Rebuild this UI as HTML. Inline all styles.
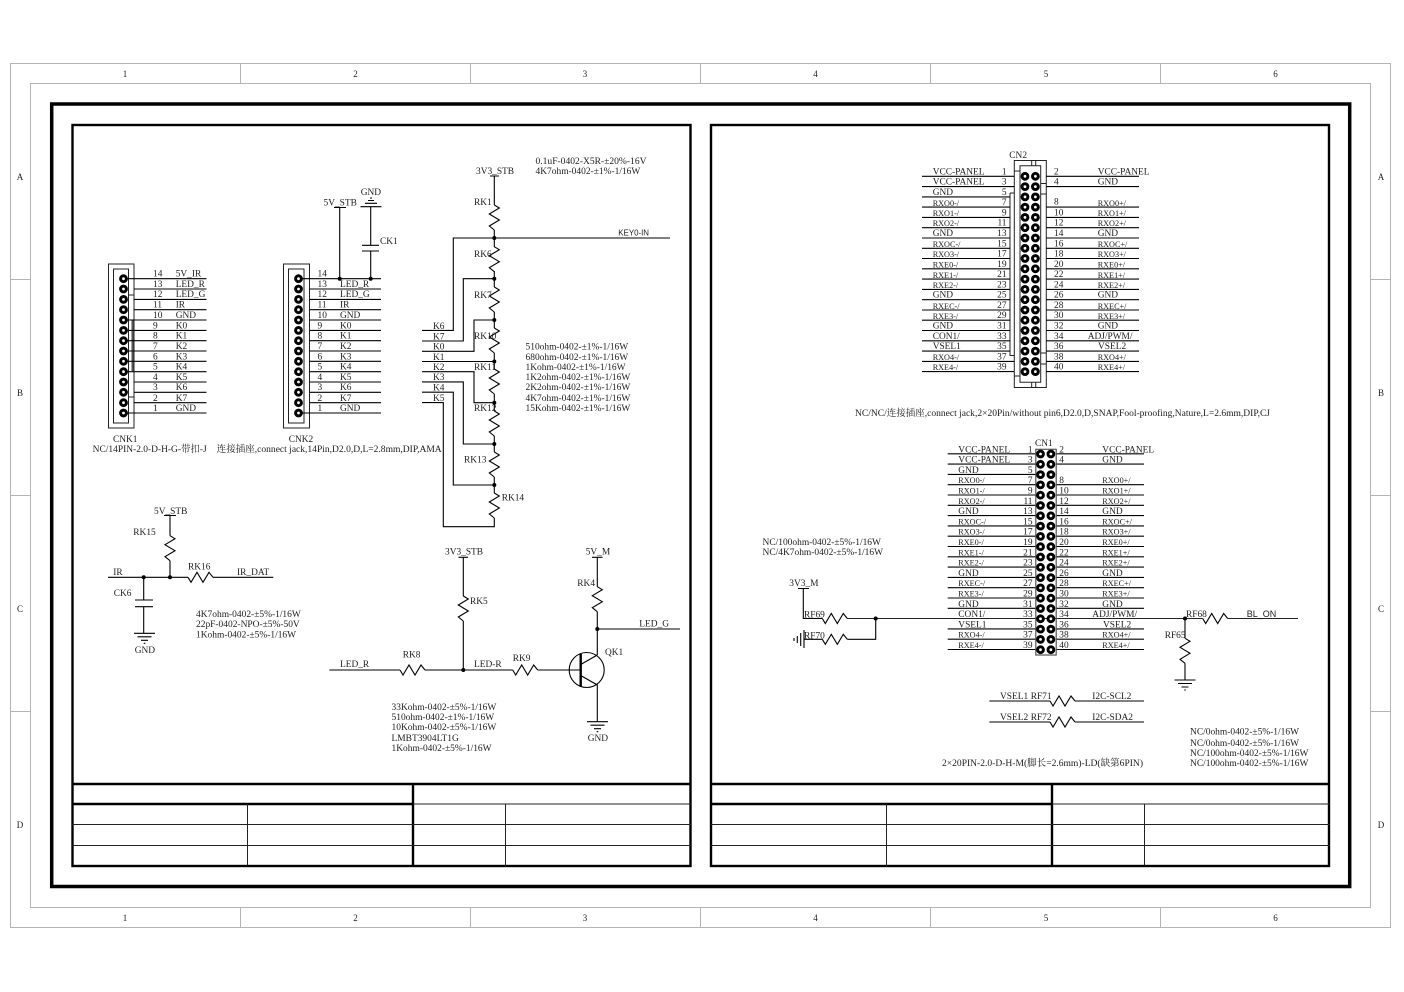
<!DOCTYPE html>
<html><head><meta charset="utf-8"><style>
html,body{margin:0;padding:0;background:#fff}
svg{display:block}
text{font-family:"Liberation Serif","Noto Serif CJK SC",serif;font-size:9.4px;fill:#1c1c1c;stroke:none}
.s{font-size:8.2px}
.m{font-size:9.45px}
.e{text-anchor:end}
.c{text-anchor:middle}
.h{font-family:"Liberation Sans",sans-serif;font-size:7.9px}
.w{fill:none;stroke:#000;stroke-width:1.1}
.g{fill:none;stroke:#b4b4b4;stroke-width:1}
.t{fill:none;stroke:#000;stroke-width:3.5}
.k{fill:none;stroke:#000;stroke-width:2.4}
.n{fill:none;stroke:#222;stroke-width:1}
.b{font-size:9px}
</style></head><body>
<svg xmlns="http://www.w3.org/2000/svg" width="1404" height="992" viewBox="0 0 1404 992">
<defs>
<path id="rv" class="w" d="M0 0L5 3L-5 9L5 15L-5 21L0 25"/>
<path id="rh" class="w" d="M0 0L3 5L9 -5L15 5L21 -5L25 0"/>
<circle id="p" cx="0" cy="0" r="2.9" fill="#fff" stroke="#000" stroke-width="3"/>
<g id="pp"><use href="#p" x="0"/><use href="#p" x="10.4"/></g>
<g id="d"><circle r="2" fill="#000"/></g>
<path id="gnd" class="w" d="M-10.5 0H10.5M-7 3.5H7M-3.5 7H3.5M-.8 10H.8"/>
</defs>

<!-- outer grid -->
<path class="g" d="M10.5 63.5H1390.5V927.5H10.5ZM30.5 83.5H1370.5V907.5H30.5Z"/>
<path class="g" d="M240.5 64V84M470.5 64V84M700.5 64V84M930.5 64V84M1160.5 64V84M240.5 907V927M470.5 907V927M700.5 907V927M930.5 907V927M1160.5 907V927M11 279.5H31M11 495.5H31M11 711.5H31M1370 279.5H1390M1370 495.5H1390M1370 711.5H1390"/>
<g class="b">
<text class="c b" x="125" y="77">1</text><text class="c b" x="355.5" y="77">2</text><text class="c b" x="585" y="77">3</text><text class="c b" x="815.5" y="77">4</text><text class="c b" x="1046" y="77">5</text><text class="c b" x="1275.5" y="77">6</text>
<text class="c b" x="125" y="921">1</text><text class="c b" x="355.5" y="921">2</text><text class="c b" x="585" y="921">3</text><text class="c b" x="815.5" y="921">4</text><text class="c b" x="1046" y="921">5</text><text class="c b" x="1275.5" y="921">6</text>
<text class="c b" x="20" y="180">A</text><text class="c b" x="20" y="396">B</text><text class="c b" x="20" y="612">C</text><text class="c b" x="20" y="828">D</text>
<text class="c b" x="1381" y="180">A</text><text class="c b" x="1381" y="396">B</text><text class="c b" x="1381" y="612">C</text><text class="c b" x="1381" y="828">D</text>
</g>

<!-- frames -->
<rect class="t" x="51.7" y="104" width="1298" height="782.5"/>
<rect class="k" x="72.5" y="125" width="618" height="741"/>
<rect class="k" x="711" y="125" width="618" height="741"/>
<path class="k" d="M72 784H691M72 804H413M413 784V866M711 784H1330M711 804H1052M1052 784V866"/>
<path class="n" d="M413 804H691M72 824.5H691M72 845.5H691M247.5 804V866M505.5 804V866M1052 804H1330M711 824.5H1330M711 845.5H1330M886.5 804V866M1144.5 804V866"/>

<!-- CNK1 -->
<path class="n" stroke-width="1.2" d="M108.5 264H134V428H108.5ZM113.5 269H128.5V423H113.5Z"/>
<path class="n" d="M128.5 295H134M128.5 397H134"/>
<path fill="none" stroke="#555" stroke-width="2" d="M132.5 320V371"/>
<path class="w" d="M124 278.7H206.5M134 289H206.5M134 299.4H206.5M134 309.7H206.5M124 320H206.5M124 330.4H206.5M124 340.7H206.5M124 351H206.5M124 361.3H206.5M124 371.7H206.5M134 382H206.5M134 392.3H206.5M134 402.7H206.5M124 413H206.5"/>
<use href="#p" x="123.5" y="278.7"/><use href="#p" x="123.5" y="289"/><use href="#p" x="123.5" y="299.4"/><use href="#p" x="123.5" y="309.7"/><use href="#p" x="123.5" y="320"/><use href="#p" x="123.5" y="330.4"/><use href="#p" x="123.5" y="340.7"/><use href="#p" x="123.5" y="351"/><use href="#p" x="123.5" y="361.3"/><use href="#p" x="123.5" y="371.7"/><use href="#p" x="123.5" y="382"/><use href="#p" x="123.5" y="392.3"/><use href="#p" x="123.5" y="402.7"/><use href="#p" x="123.5" y="413"/>
<text x="153" y="276.5">14</text><text x="175.7" y="276.5">5V_IR</text>
<text x="153" y="286.8">13</text><text x="175.7" y="286.8">LED_R</text>
<text x="153" y="297.2">12</text><text x="175.7" y="297.2">LED_G</text>
<text x="153" y="307.5">11</text><text x="175.7" y="307.5">IR</text>
<text x="153" y="317.8">10</text><text x="175.7" y="317.8">GND</text>
<text x="153" y="328.5">9</text><text x="175.7" y="328.5">K0</text>
<text x="153" y="338.5">8</text><text x="175.7" y="338.5">K1</text>
<text x="153" y="348.8">7</text><text x="175.7" y="348.8">K2</text>
<text x="153" y="359.5">6</text><text x="175.7" y="359.5">K3</text>
<text x="153" y="369.5">5</text><text x="175.7" y="369.5">K4</text>
<text x="153" y="379.8">4</text><text x="175.7" y="379.8">K5</text>
<text x="153" y="390">3</text><text x="175.7" y="390">K6</text>
<text x="153" y="401">2</text><text x="175.7" y="401">K7</text>
<text x="153" y="411">1</text><text x="175.7" y="411">GND</text>
<text x="113" y="442">CNK1</text>
<text x="92.7" y="452" textLength="114" lengthAdjust="spacingAndGlyphs">NC/14PIN-2.0-D-H-G-带扣-J</text>

<!-- CNK2 -->
<path class="n" d="M283.5 264H309.5V428H283.5ZM288.5 269H304V423H288.5Z"/>
<path class="w" d="M299 278.7H381M309.5 289H381M309.5 299.4H381M309.5 309.7H381M309.5 320H381M309.5 330.4H381M309.5 340.7H381M309.5 351H381M309.5 361.3H381M309.5 371.7H381M309.5 382H381M309.5 392.3H381M309.5 402.7H381M299 413H381"/>
<use href="#p" x="298.5" y="278.7"/><use href="#p" x="298.5" y="289"/><use href="#p" x="298.5" y="299.4"/><use href="#p" x="298.5" y="309.7"/><use href="#p" x="298.5" y="320"/><use href="#p" x="298.5" y="330.4"/><use href="#p" x="298.5" y="340.7"/><use href="#p" x="298.5" y="351"/><use href="#p" x="298.5" y="361.3"/><use href="#p" x="298.5" y="371.7"/><use href="#p" x="298.5" y="382"/><use href="#p" x="298.5" y="392.3"/><use href="#p" x="298.5" y="402.7"/><use href="#p" x="298.5" y="413"/>
<text x="317.5" y="276.5">14</text>
<text x="317.5" y="286.8">13</text><text x="340" y="286.8">LED_R</text>
<text x="317.5" y="297.2">12</text><text x="340" y="297.2">LED_G</text>
<text x="317.5" y="307.5">11</text><text x="340" y="307.5">IR</text>
<text x="317.5" y="317.8">10</text><text x="340" y="317.8">GND</text>
<text x="317.5" y="328.5">9</text><text x="340" y="328.5">K0</text>
<text x="317.5" y="338.5">8</text><text x="340" y="338.5">K1</text>
<text x="317.5" y="348.8">7</text><text x="340" y="348.8">K2</text>
<text x="317.5" y="359.5">6</text><text x="340" y="359.5">K3</text>
<text x="317.5" y="369.5">5</text><text x="340" y="369.5">K4</text>
<text x="317.5" y="379.8">4</text><text x="340" y="379.8">K5</text>
<text x="317.5" y="390">3</text><text x="340" y="390">K6</text>
<text x="317.5" y="401">2</text><text x="340" y="401">K7</text>
<text x="317.5" y="411">1</text><text x="340" y="411">GND</text>
<text x="288.7" y="442">CNK2</text>
<text x="216.7" y="452" textLength="225" lengthAdjust="spacingAndGlyphs">连接插座,connect jack,14Pin,D2.0,D,L=2.8mm,DIP,AMA</text>
<path class="w" d="M334 207.5H346M339.7 207.5V278.7M370.7 206.7V245.3M362 245.3H379M362 251H379M370.7 251V278.7"/>
<path class="w" d="M360.5 206.7H381.5M365 203.3H377M368 200.5H374M370 198H372"/>
<use href="#d" x="339.7" y="278.7"/><use href="#d" x="370.7" y="278.7"/>
<text x="323.5" y="205.5">5V_STB</text><text x="360.7" y="195">GND</text><text x="380" y="244">CK1</text>

<!-- K ladder -->
<path class="w" d="M422 330.4H453.3V238H670M422 341H463.3V278.7H494.3M422 351.3H474V320H494.3M422 361.5H494.3M422 371.7H474V402.7H494.3M422 381.9H463.3V444H494.3M422 392.2H453.3V485H494.3M422 402.6H443.3V526.7H494.3V518"/>
<path class="w" d="M490 176H499M494.3 176V205M494.3 230V247M494.3 271V287M494.3 312V328M494.3 353V369M494.3 394V411M494.3 436V452M494.3 477V493"/>
<use href="#rv" x="494.3" y="205"/><use href="#rv" x="494.3" y="246.7"/><use href="#rv" x="494.3" y="287"/><use href="#rv" x="494.3" y="328"/><use href="#rv" x="494.3" y="369"/><use href="#rv" x="494.3" y="411"/><use href="#rv" x="494.3" y="452"/><use href="#rv" x="494.3" y="493"/>
<use href="#d" x="494.3" y="238"/><use href="#d" x="494.3" y="278.7"/><use href="#d" x="494.3" y="320"/><use href="#d" x="494.3" y="361.5"/><use href="#d" x="494.3" y="402.7"/><use href="#d" x="494.3" y="444"/><use href="#d" x="494.3" y="485"/>
<text x="476" y="174">3V3_STB</text>
<text x="474" y="205">RK1</text><text x="474" y="257">RK6</text><text x="474" y="298">RK7</text><text x="474" y="339">RK10</text><text x="474" y="370">RK11</text><text x="474" y="411">RK12</text><text x="464" y="462.5">RK13</text><text x="501.7" y="500.5">RK14</text>
<text class="h" x="618.3" y="235.5">KEY0-IN</text>
<text class="m" x="535.5" y="164" textLength="111" lengthAdjust="spacingAndGlyphs">0.1uF-0402-X5R-±20%-16V</text>
<text class="m" x="535.5" y="174">4K7ohm-0402-±1%-1/16W</text>
<text class="m" x="525.5" y="349.5">510ohm-0402-±1%-1/16W</text>
<text class="m" x="525.5" y="360">680ohm-0402-±1%-1/16W</text>
<text class="m" x="525.5" y="370">1Kohm-0402-±1%-1/16W</text>
<text class="m" x="525.5" y="380">1K2ohm-0402-±1%-1/16W</text>
<text class="m" x="525.5" y="390">2K2ohm-0402-±1%-1/16W</text>
<text class="m" x="525.5" y="401">4K7ohm-0402-±1%-1/16W</text>
<text class="m" x="525.5" y="411">15Kohm-0402-±1%-1/16W</text>
<text x="433" y="329">K6</text><text x="433" y="339.3">K7</text><text x="433" y="349.5">K0</text><text x="433" y="360">K1</text><text x="433" y="370">K2</text><text x="433" y="380">K3</text><text x="433" y="390.3">K4</text><text x="433" y="401">K5</text>

<!-- IR -->
<path class="w" d="M164 515.5H176M170 515.5V535.7M170 560.7V577.3M108 577.3H188M213 577.3H273.3M143.7 577.3V600M135 600H153M135 606.7H153M143.7 606.7V633.3"/>
<use href="#rv" x="170" y="535.7"/><use href="#rh" x="188" y="577.3"/><use href="#gnd" x="144.5" y="633.3"/>
<use href="#d" x="143.7" y="577.3"/><use href="#d" x="170" y="577.3"/>
<text x="154" y="514">5V_STB</text><text x="133.3" y="535">RK15</text><text x="113.3" y="575">IR</text><text x="188" y="569.5">RK16</text><text x="237" y="575">IR_DAT</text><text x="113.7" y="596">CK6</text><text x="134.7" y="653">GND</text>
<text class="m" x="196" y="617">4K7ohm-0402-±5%-1/16W</text>
<text class="m" x="196" y="627">22pF-0402-NPO-±5%-50V</text>
<text class="m" x="196" y="637.5">1Kohm-0402-±5%-1/16W</text>

<!-- Transistor -->
<path class="w" d="M458.5 557.3H468M463.3 557.3V596M463.3 621V670M329.3 670H400M425 670H512.7M537.7 670H580.7M592 557.3H602.5M597.3 557.3V586.7M597.3 611.7V655M597.3 629H680M580.7 664.5L597.3 655M580.7 675.5L597.3 685V721.7"/>
<use href="#rv" x="463.3" y="596"/><use href="#rv" x="597.3" y="586.7"/><use href="#rh" x="400" y="670"/><use href="#rh" x="512.7" y="670"/>
<circle class="w" cx="586.7" cy="670" r="17.5"/>
<path fill="none" stroke="#000" stroke-width="2.4" d="M580.7 654V686.7"/>
<use href="#gnd" x="597.5" y="721.7"/>
<use href="#d" x="463.3" y="670"/><use href="#d" x="597.3" y="629"/>
<text x="445" y="554.5">3V3_STB</text><text x="585.7" y="554.5">5V_M</text><text x="470" y="604">RK5</text><text x="577.3" y="586">RK4</text><text x="340" y="667">LED_R</text><text x="402.7" y="657.5">RK8</text><text x="474" y="667">LED-R</text><text x="512.7" y="661">RK9</text><text x="639.3" y="626.5">LED_G</text><text x="605" y="655">QK1</text><text x="587.7" y="741">GND</text>
<text class="m" x="391.5" y="710">33Kohm-0402-±5%-1/16W</text>
<text class="m" x="391.5" y="720">510ohm-0402-±1%-1/16W</text>
<text class="m" x="391.5" y="730">10Kohm-0402-±5%-1/16W</text>
<text class="m" x="391.5" y="741">LMBT3904LT1G</text>
<text class="m" x="391.5" y="751">1Kohm-0402-±5%-1/16W</text>

<!-- CN2 -->
<text x="1009.3" y="158">CN2</text>
<path class="n" d="M1014.3 160.5H1046.3V387.5H1014.3ZM1020 165.7H1040.7V382.3H1020ZM1031.7 160.5V165.7M1035.7 160.5V165.7M1031.7 382.3V387.5M1035.7 382.3V387.5M1014.3 171H1020M1014.3 376H1020M1010 193H1014.3M1010 193V355.5H1014.3M1040.7 183.5H1046.3M1040.7 194H1046.3M1040.7 353H1046.3M1040.7 364H1046.3M1046.3 183.5V194"/>
<path class="w" d="M922 176.3H1014M922 186.6H1014M922 196.9H1010M922 207.1H1010M922 217.4H1010M922 227.7H1010M922 238H1010M922 248.3H1010M922 258.5H1010M922 268.8H1010M922 279.1H1010M922 289.4H1010M922 299.7H1010M922 310H1010M922 320.2H1010M922 330.5H1010M922 340.8H1010M922 351.1H1010M922 361.4H1014M922 371.6H1014"/>
<path class="w" d="M1046.3 176.3H1139M1046.3 186.6H1139M1046.3 207.1H1139M1046.3 217.4H1139M1046.3 227.7H1139M1046.3 238H1139M1046.3 248.3H1139M1046.3 258.5H1139M1046.3 268.8H1139M1046.3 279.1H1139M1046.3 289.4H1139M1046.3 299.7H1139M1046.3 310H1139M1046.3 320.2H1139M1046.3 330.5H1139M1046.3 340.8H1139M1046.3 351.1H1139M1046.3 361.4H1139M1046.3 371.6H1139"/>
<use href="#pp" x="1025" y="176.3"/><use href="#pp" x="1025" y="186.6"/><use href="#pp" x="1025" y="196.9"/><use href="#pp" x="1025" y="207.1"/><use href="#pp" x="1025" y="217.4"/><use href="#pp" x="1025" y="227.7"/><use href="#pp" x="1025" y="238"/><use href="#pp" x="1025" y="248.3"/><use href="#pp" x="1025" y="258.5"/><use href="#pp" x="1025" y="268.8"/><use href="#pp" x="1025" y="279.1"/><use href="#pp" x="1025" y="289.4"/><use href="#pp" x="1025" y="299.7"/><use href="#pp" x="1025" y="310"/><use href="#pp" x="1025" y="320.2"/><use href="#pp" x="1025" y="330.5"/><use href="#pp" x="1025" y="340.8"/><use href="#pp" x="1025" y="351.1"/><use href="#pp" x="1025" y="361.4"/><use href="#pp" x="1025" y="371.6"/>
<text x="932.7" y="174.3">VCC-PANEL</text><text class="e" x="1006.5" y="174.3">1</text><text x="1054" y="174.3">2</text><text x="1097.7" y="174.3">VCC-PANEL</text>
<text x="932.7" y="184.6">VCC-PANEL</text><text class="e" x="1006.5" y="184.6">3</text><text x="1054" y="184.6">4</text><text x="1097.7" y="184.6">GND</text>
<text x="932.7" y="194.9">GND</text><text class="e" x="1006.5" y="194.9">5</text>
<text class="s" x="932.7" y="206">RXO0-/</text><text class="e" x="1006.5" y="205">7</text><text x="1054" y="204.5">8</text><text class="s" x="1097.7" y="206">RXO0+/</text>
<text class="s" x="932.7" y="216">RXO1-/</text><text class="e" x="1006.5" y="215.4">9</text><text x="1054" y="215.4">10</text><text class="s" x="1097.7" y="216">RXO1+/</text>
<text class="s" x="932.7" y="226">RXO2-/</text><text class="e" x="1006.5" y="225.7">11</text><text x="1054" y="225.7">12</text><text class="s" x="1097.7" y="226">RXO2+/</text>
<text x="932.7" y="236">GND</text><text class="e" x="1006.5" y="236">13</text><text x="1054" y="236">14</text><text x="1097.7" y="236">GND</text>
<text class="s" x="932.7" y="247">RXOC-/</text><text class="e" x="1006.5" y="246.3">15</text><text x="1054" y="246.3">16</text><text class="s" x="1097.7" y="247">RXOC+/</text>
<text class="s" x="932.7" y="257">RXO3-/</text><text class="e" x="1006.5" y="256.5">17</text><text x="1054" y="256.5">18</text><text class="s" x="1097.7" y="257">RXO3+/</text>
<text class="s" x="932.7" y="267.5">RXE0-/</text><text class="e" x="1006.5" y="266.8">19</text><text x="1054" y="266.8">20</text><text class="s" x="1097.7" y="267.5">RXE0+/</text>
<text class="s" x="932.7" y="278">RXE1-/</text><text class="e" x="1006.5" y="277.1">21</text><text x="1054" y="277.1">22</text><text class="s" x="1097.7" y="278">RXE1+/</text>
<text class="s" x="932.7" y="288">RXE2-/</text><text class="e" x="1006.5" y="287.4">23</text><text x="1054" y="287.4">24</text><text class="s" x="1097.7" y="288">RXE2+/</text>
<text x="932.7" y="297.7">GND</text><text class="e" x="1006.5" y="297.7">25</text><text x="1054" y="297.7">26</text><text x="1097.7" y="297.7">GND</text>
<text class="s" x="932.7" y="309">RXEC-/</text><text class="e" x="1006.5" y="308">27</text><text x="1054" y="308">28</text><text class="s" x="1097.7" y="309">RXEC+/</text>
<text class="s" x="932.7" y="319">RXE3-/</text><text class="e" x="1006.5" y="318.2">29</text><text x="1054" y="318.2">30</text><text class="s" x="1097.7" y="319">RXE3+/</text>
<text x="932.7" y="328.5">GND</text><text class="e" x="1006.5" y="328.5">31</text><text x="1054" y="328.5">32</text><text x="1097.7" y="328.5">GND</text>
<text x="932.7" y="338.8">CON1/</text><text class="e" x="1006.5" y="338.8">33</text><text x="1054" y="338.8">34</text><text x="1087.7" y="338.8">ADJ/PWM/</text>
<text x="932.7" y="349.1">VSEL1</text><text class="e" x="1006.5" y="349.1">35</text><text x="1054" y="349.1">36</text><text x="1098" y="349.1">VSEL2</text>
<text class="s" x="932.7" y="360">RXO4-/</text><text class="e" x="1006.5" y="359.4">37</text><text x="1054" y="359.4">38</text><text class="s" x="1097.7" y="360">RXO4+/</text>
<text class="s" x="932.7" y="370">RXE4-/</text><text class="e" x="1006.5" y="369.6">39</text><text x="1054" y="369.6">40</text><text class="s" x="1097.7" y="370">RXE4+/</text>
<text x="855" y="416" textLength="415" lengthAdjust="spacingAndGlyphs">NC/NC/连接插座,connect jack,2×20Pin/without pin6,D2.0,D,SNAP,Fool-proofing,Nature,L=2.6mm,DIP,CJ</text>

<!-- CN1 -->
<text x="1035" y="446">CN1</text>
<path class="w" d="M947.7 453.8H1036M947.7 464.1H1036M947.7 474.4H1036M947.7 484.7H1036M947.7 495H1036M947.7 505.3H1036M947.7 515.6H1036M947.7 525.9H1036M947.7 536.2H1036M947.7 546.5H1036M947.7 556.8H1036M947.7 567.1H1036M947.7 577.4H1036M947.7 587.7H1036M947.7 598H1036M947.7 608.3H1036M947.7 628.9H1036M947.7 639.2H1036M947.7 649.5H1036"/>
<path class="w" d="M1056 453.8H1144M1056 464.1H1144M1056 484.7H1144M1056 495H1144M1056 505.3H1144M1056 515.6H1144M1056 525.9H1144M1056 536.2H1144M1056 546.5H1144M1056 556.8H1144M1056 567.1H1144M1056 577.4H1144M1056 587.7H1144M1056 598H1144M1056 608.3H1144M1056 628.9H1144M1056 639.2H1144M1056 649.5H1144"/>
<path fill="none" stroke="#222" stroke-width="1.1" d="M847.3 618.5H1202.7M1227.7 618.5H1298"/>
<rect x="1035.8" y="449.3" width="20.4" height="205.7" fill="none" stroke="#555" stroke-width="1.2"/>
<use href="#pp" x="1040.5" y="454"/><use href="#pp" x="1040.5" y="464.3"/><use href="#pp" x="1040.5" y="474.6"/><use href="#pp" x="1040.5" y="484.9"/><use href="#pp" x="1040.5" y="495.2"/><use href="#pp" x="1040.5" y="505.5"/><use href="#pp" x="1040.5" y="515.8"/><use href="#pp" x="1040.5" y="526.1"/><use href="#pp" x="1040.5" y="536.4"/><use href="#pp" x="1040.5" y="546.7"/><use href="#pp" x="1040.5" y="557"/><use href="#pp" x="1040.5" y="567.3"/><use href="#pp" x="1040.5" y="577.6"/><use href="#pp" x="1040.5" y="587.9"/><use href="#pp" x="1040.5" y="598.2"/><use href="#pp" x="1040.5" y="608.5"/><use href="#pp" x="1040.5" y="618.8"/><use href="#pp" x="1040.5" y="629.1"/><use href="#pp" x="1040.5" y="639.4"/><use href="#pp" x="1040.5" y="649.7"/>
<text x="958.3" y="452.3">VCC-PANEL</text><text class="e" x="1032.5" y="452.3">1</text><text x="1059.3" y="452.3">2</text><text x="1102.3" y="452.3">VCC-PANEL</text>
<text x="958.3" y="462.6">VCC-PANEL</text><text class="e" x="1032.5" y="462.6">3</text><text x="1059.3" y="462.6">4</text><text x="1102.3" y="462.6">GND</text>
<text x="958.3" y="472.9">GND</text><text class="e" x="1032.5" y="472.9">5</text>
<text class="s" x="958.3" y="483.2">RXO0-/</text><text class="e" x="1032.5" y="483.2">7</text><text x="1059.3" y="483.2">8</text><text class="s" x="1102.3" y="483.2">RXO0+/</text>
<text class="s" x="958.3" y="493.5">RXO1-/</text><text class="e" x="1032.5" y="493.5">9</text><text x="1059.3" y="493.5">10</text><text class="s" x="1102.3" y="493.5">RXO1+/</text>
<text class="s" x="958.3" y="503.8">RXO2-/</text><text class="e" x="1032.5" y="503.8">11</text><text x="1059.3" y="503.8">12</text><text class="s" x="1102.3" y="503.8">RXO2+/</text>
<text x="958.3" y="514.1">GND</text><text class="e" x="1032.5" y="514.1">13</text><text x="1059.3" y="514.1">14</text><text x="1102.3" y="514.1">GND</text>
<text class="s" x="958.3" y="524.4">RXOC-/</text><text class="e" x="1032.5" y="524.4">15</text><text x="1059.3" y="524.4">16</text><text class="s" x="1102.3" y="524.4">RXOC+/</text>
<text class="s" x="958.3" y="534.7">RXO3-/</text><text class="e" x="1032.5" y="534.7">17</text><text x="1059.3" y="534.7">18</text><text class="s" x="1102.3" y="534.7">RXO3+/</text>
<text class="s" x="958.3" y="545">RXE0-/</text><text class="e" x="1032.5" y="545">19</text><text x="1059.3" y="545">20</text><text class="s" x="1102.3" y="545">RXE0+/</text>
<text class="s" x="958.3" y="555.3">RXE1-/</text><text class="e" x="1032.5" y="555.3">21</text><text x="1059.3" y="555.3">22</text><text class="s" x="1102.3" y="555.3">RXE1+/</text>
<text class="s" x="958.3" y="565.6">RXE2-/</text><text class="e" x="1032.5" y="565.6">23</text><text x="1059.3" y="565.6">24</text><text class="s" x="1102.3" y="565.6">RXE2+/</text>
<text x="958.3" y="575.9">GND</text><text class="e" x="1032.5" y="575.9">25</text><text x="1059.3" y="575.9">26</text><text x="1102.3" y="575.9">GND</text>
<text class="s" x="958.3" y="586.2">RXEC-/</text><text class="e" x="1032.5" y="586.2">27</text><text x="1059.3" y="586.2">28</text><text class="s" x="1102.3" y="586.2">RXEC+/</text>
<text class="s" x="958.3" y="596.5">RXE3-/</text><text class="e" x="1032.5" y="596.5">29</text><text x="1059.3" y="596.5">30</text><text class="s" x="1102.3" y="596.5">RXE3+/</text>
<text x="958.3" y="606.8">GND</text><text class="e" x="1032.5" y="606.8">31</text><text x="1059.3" y="606.8">32</text><text x="1102.3" y="606.8">GND</text>
<text x="958.3" y="617.1">CON1/</text><text class="e" x="1032.5" y="617.1">33</text><text x="1059.3" y="617.1">34</text><text x="1092.3" y="617.1">ADJ/PWM/</text>
<text x="958.3" y="627.4">VSEL1</text><text class="e" x="1032.5" y="627.4">35</text><text x="1059.3" y="627.4">36</text><text x="1103" y="627.4">VSEL2</text>
<text class="s" x="958.3" y="637.7">RXO4-/</text><text class="e" x="1032.5" y="637.7">37</text><text x="1059.3" y="637.7">38</text><text class="s" x="1102.3" y="637.7">RXO4+/</text>
<text class="s" x="958.3" y="648">RXE4-/</text><text class="e" x="1032.5" y="648">39</text><text x="1059.3" y="648">40</text><text class="s" x="1102.3" y="648">RXE4+/</text>

<!-- CN1 periphery -->
<path class="w" d="M798 588.5H809M803.3 588.5V618.5H822.3M847.3 639.3H875.7V618.5M804 639.3H822.3M804 630V648M800.7 633V646M797.3 636V643M794 638V641"/>
<use href="#rh" x="822.3" y="618.5"/><use href="#rh" x="822.3" y="639.3"/><use href="#rh" x="1202.7" y="618.5"/>
<use href="#d" x="875.7" y="618.5"/><use href="#d" x="1185" y="618.5"/>
<path class="w" d="M1185 618.5V638.3M1185 663.3V680"/>
<use href="#rv" x="1185" y="638.3"/><use href="#gnd" x="1185" y="680"/>
<text class="m" x="762.5" y="545">NC/100ohm-0402-±5%-1/16W</text>
<text class="m" x="762.5" y="555">NC/4K7ohm-0402-±5%-1/16W</text>
<text x="789.3" y="586">3V3_M</text><text x="804" y="617.5">RF69</text><text x="804" y="638.5">RF70</text>
<text x="1186" y="617">RF68</text><text x="1164.7" y="638">RF65</text>
<text x="1246.7" y="617" style="font-family:'Liberation Sans',sans-serif;font-size:9px">BL_ON</text>
<path class="w" d="M989.3 701H1050M1075 701H1144M989.3 722H1050M1075 722H1144"/>
<use href="#rh" x="1050" y="701"/><use href="#rh" x="1050" y="722"/>
<text x="1000" y="699">VSEL1</text><text x="1030.7" y="699">RF71</text><text x="1092.3" y="699">I2C-SCL2</text>
<text x="1000" y="720">VSEL2</text><text x="1030.7" y="720">RF72</text><text x="1092.3" y="720">I2C-SDA2</text>
<text x="942" y="766" textLength="201" lengthAdjust="spacingAndGlyphs">2×20PIN-2.0-D-H-M(脚长=2.6mm)-LD(缺第6PIN)</text>
<text class="m" x="1190" y="734.5">NC/0ohm-0402-±5%-1/16W</text>
<text class="m" x="1190" y="746">NC/0ohm-0402-±5%-1/16W</text>
<text class="m" x="1190" y="756">NC/100ohm-0402-±5%-1/16W</text>
<text class="m" x="1190" y="766">NC/100ohm-0402-±5%-1/16W</text>
</svg>
</body></html>
